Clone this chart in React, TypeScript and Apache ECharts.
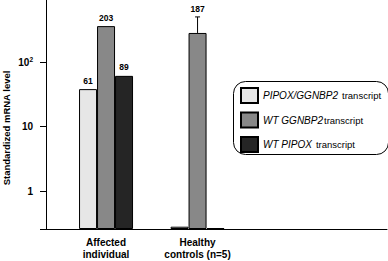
import React, { useEffect, useRef } from 'react';
import * as echarts from 'echarts';

// ---- data ----
const categories = ['Affected\nindividual', 'Healthy\ncontrols (n=5)'];
const categoryPos = [0, 1];
const seriesNames = ['PIPOX/GGNBP2 transcript', 'WT GGNBP2 transcript', 'WT PIPOX transcript'];
const pipoxGgnbp2 = [38, 0.28];
const wtGgnbp2 = [360, 282];
const wtPipox = [61, 0.267];
const pipoxGgnbp2Labels = ['61', ''];
const wtGgnbp2Labels = ['203', ''];
const wtPipoxLabels = ['89', ''];
const errorUpper = [0, 500];
const errorLabels = ['', '187'];
const yMin = 0.258;
const yMax = 1000;

const FONT = 'Liberation Sans';
const colors = ['#e6e6e6', '#888888', '#252525'];

const legendRich: Record<string, string[]> = {
  'PIPOX/GGNBP2 transcript': ['PIPOX/GGNBP2', 'transcript', 'gap'],
  'WT GGNBP2 transcript': ['WT GGNBP2', 'transcript', 'tight'],
  'WT PIPOX transcript': ['WT PIPOX', 'transcript', 'gap'],
};

export default function App() {
  const ref = useRef<HTMLDivElement>(null);
  useEffect(() => {
    if (!ref.current) return;
    const chart = echarts.init(ref.current, undefined, { renderer: 'svg' });
    const values = [pipoxGgnbp2, wtGgnbp2, wtPipox];
    const labels = [pipoxGgnbp2Labels, wtGgnbp2Labels, wtPipoxLabels];
    const barSeries = values.map((vals, s) => ({
      type: 'bar',
      name: seriesNames[s],
      data: vals.map((v, i) => [categoryPos[i], v]),
      barWidth: 18,
      barGap: '0%',
      itemStyle: { color: colors[s], borderColor: '#000', borderWidth: 1 },
      label: {
        show: true,
        position: 'top',
        distance: 4,
        formatter: (p: any) => labels[s][p.dataIndex],
        fontFamily: FONT,
        fontSize: 8.5,
        fontWeight: 'bold',
        color: '#000',
      },
    }));
    const errData = categoryPos
      .map((x, i) => (errorUpper[i] > 0 ? [x, errorUpper[i], wtGgnbp2[i]] : null))
      .filter((d) => d !== null);
    chart.setOption({
      animation: false,
      grid: { left: 46, right: 1, top: -2.5, bottom: 32, outerBoundsMode: 'none' },
      xAxis: {
        type: 'value',
        min: -0.656,
        max: 3.07,
        splitLine: { show: false },
        axisTick: { show: false },
        axisLine: { onZero: false, lineStyle: { color: '#000', width: 1 } },
        axisLabel: {
          customValues: categoryPos,
          formatter: (v: number) => categories[Math.round(v)] ?? '',
          fontFamily: FONT,
          fontSize: 10,
          fontWeight: 'bold',
          color: '#000',
          lineHeight: 12,
          margin: 7,
        },
      },
      yAxis: {
        type: 'log',
        logBase: 10,
        min: yMin,
        max: yMax,
        startValue: yMin,
        splitLine: { show: false },
        axisLine: { show: true, onZero: false, lineStyle: { color: '#000', width: 1 } },
        axisTick: { show: true, length: 6, lineStyle: { color: '#000' } },
        axisLabel: {
          margin: 13,
          fontFamily: FONT,
          fontSize: 10,
          fontWeight: 'bold',
          color: '#000',
          formatter: (v: number) => {
            const e = Math.log10(v);
            if (Math.abs(e - Math.round(e)) > 1e-6) return '';
            const k = Math.round(e);
            if (k === 0) return '1';
            if (k === 1) return '10';
            if (k === 2) return '10{sup|2}';
            return '';
          },
          rich: {
            sup: { fontSize: 6.5, verticalAlign: 'top', padding: [0, 0, 6, 0], fontFamily: FONT, fontWeight: 'bold', color: '#000' },
          },
        },
      },
      legend: {
        orient: 'vertical',
        left: 240,
        top: 87,
        padding: 0,
        itemGap: 7.5,
        itemWidth: 17,
        itemHeight: 15,
        icon: 'rect',
        data: seriesNames,
        formatter: (name: string) => {
          const [a, b, style] = legendRich[name];
          return `{i|${a}}{${style}|${b}}`;
        },
        textStyle: {
          color: '#000',
          fontSize: 10,
          fontFamily: FONT,
          rich: {
            i: { fontStyle: 'italic', fontFamily: FONT, fontSize: 10, color: '#000' },
            gap: { fontStyle: 'normal', fontFamily: FONT, fontSize: 9.5, color: '#000', padding: [0, 0, 0, 4] },
            tight: { fontStyle: 'normal', fontFamily: FONT, fontSize: 9.5, color: '#000', padding: [0, 0, 0, 1] },
          },
        },
      },
      graphic: [
        {
          type: 'rect',
          left: 231,
          top: 79,
          shape: { width: 155, height: 73, r: 12 },
          style: { fill: 'none', stroke: '#000', lineWidth: 1 },
          z: 10,
        },
        {
          type: 'text',
          x: 6,
          y: 128,
          rotation: Math.PI / 2,
          style: {
            text: 'Standardized mRNA level',
            fontFamily: FONT,
            fontSize: 9.5,
            fontWeight: 'bold',
            fill: '#000',
            textAlign: 'center',
            textVerticalAlign: 'middle',
          },
        },
      ],
      series: [
        ...barSeries,
        {
          type: 'custom',
          name: 'error',
          data: errData,
          z: 5,
          renderItem: (params: any, api: any) => {
            const x = api.value(0);
            const top = api.coord([x, api.value(1)]);
            const base = api.coord([x, api.value(2)]);
            return {
              type: 'group',
              children: [
                { type: 'line', shape: { x1: top[0], y1: top[1], x2: base[0], y2: base[1] }, style: { stroke: '#000', lineWidth: 1 } },
                { type: 'line', shape: { x1: top[0] - 2.5, y1: top[1], x2: top[0] + 2.5, y2: top[1] }, style: { stroke: '#000', lineWidth: 1 } },
                {
                  type: 'text',
                  x: top[0],
                  y: top[1] - 3,
                  style: {
                    text: errorLabels[Math.round(x)],
                    textAlign: 'center',
                    textVerticalAlign: 'bottom',
                    fontFamily: FONT,
                    fontSize: 8.5,
                    fontWeight: 'bold',
                    fill: '#000',
                  },
                },
              ],
            };
          },
        },
      ],
    });
    return () => chart.dispose();
  }, []);
  return <div ref={ref} style={{ width: 388, height: 261, position: 'absolute', left: 0, top: 0 }} />;
}
